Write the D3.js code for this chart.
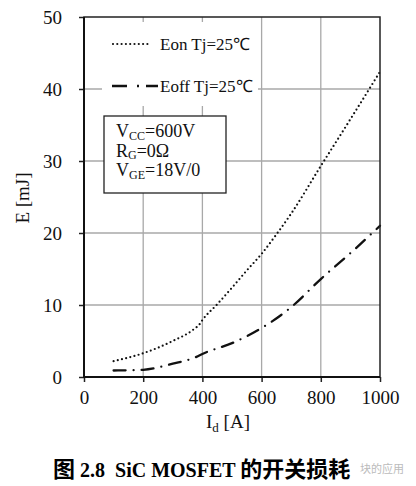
<!DOCTYPE html>
<html>
<head>
<meta charset="utf-8">
<script src="https://cdn.jsdelivr.net/npm/d3@7"></script>
<style>
  body { margin: 0; background: #fff; }
  svg { display: block; }
</style>
</head>
<body>
<div id="wrapper"></div>
<script>
// data
const currents = [100, 200, 300, 370, 390, 400, 450, 500, 550, 600, 650, 700, 800, 900, 1000]
const eonValues = [2.2, 3.3, 5.0, 6.6, 7.3, 7.9, 10.1, 12.4, 14.8, 17.1, 19.8, 22.7, 29.3, 35.8, 42.4]
const eoffCurrents = [100, 200, 300, 380, 400, 500, 600, 700, 800, 900, 1000]
const eoffValues = [0.9, 1.0, 1.85, 2.8, 3.2, 4.7, 6.8, 9.7, 13.6, 17.2, 21.0]
const xTicks = [0, 200, 400, 600, 800, 1000]
const yTicks = [0, 10, 20, 30, 40, 50]
const seriesNames = ["Eon Tj=25℃", "Eoff Tj=25℃"]

const serif = '"Liberation Serif"'
const cjk = '"Noto Sans CJK SC"'

//1_dimensions
let dimensions = {
  width: 416,
  height: 486,
  margin: { top: 17, left: 84, right: 36, bottom: 109 },
}
dimensions.boundedWidth = dimensions.width - dimensions.margin.left - dimensions.margin.right
dimensions.boundedHeight = dimensions.height - dimensions.margin.top - dimensions.margin.bottom

//2_canvas
const svg = d3.select("#wrapper")
  .append("svg")
  .attr("width", dimensions.width)
  .attr("height", dimensions.height)

const bounds = svg.append("g")
  .attr("transform", `translate(${dimensions.margin.left},${dimensions.margin.top})`)

//3_scales
const xScale = d3.scaleLinear()
  .domain([0, 1000])
  .range([0, dimensions.boundedWidth])
const yScale = d3.scaleLinear()
  .domain([0, 50])
  .range([dimensions.boundedHeight, 0])

//4_grid
const grid = bounds.append("g")
grid.selectAll(".vgrid")
  .data(xTicks.slice(1, -1))
  .join("line")
  .attr("x1", d => xScale(d)).attr("x2", d => xScale(d))
  .attr("y1", 0).attr("y2", dimensions.boundedHeight)
  .attr("stroke", "#a8a8a8").attr("stroke-width", 1.3)
grid.selectAll(".hgrid")
  .data(yTicks.slice(1, -1))
  .join("line")
  .attr("x1", 0).attr("x2", dimensions.boundedWidth)
  .attr("y1", d => yScale(d)).attr("y2", d => yScale(d))
  .attr("stroke", "#a8a8a8").attr("stroke-width", 1.3)

// legend backing hides grid
bounds.append("rect")
  .attr("x", 18).attr("y", 5)
  .attr("width", 156).attr("height", 84)
  .attr("fill", "#fff")

// conditions box
const box = bounds.append("g").attr("transform", "translate(20,99)")
box.append("rect")
  .attr("width", 122).attr("height", 77)
  .attr("fill", "#fff").attr("stroke", "#222").attr("stroke-width", 1.3)
const boxLines = [
  ["V", "CC", "=600V"],
  ["R", "G", "=0Ω"],
  ["V", "GE", "=18V/0"],
]
boxLines.forEach((l, i) => {
  const t = box.append("text")
    .attr("x", 12).attr("y", 21 + i * 19.5)
    .style("font-family", serif).style("font-size", "18px").attr("fill", "#111")
  t.append("tspan").text(l[0])
  t.append("tspan").text(l[1]).style("font-size", "12px").attr("dy", 2.5)
  t.append("tspan").text(l[2]).attr("dy", -2.5)
})

//5_lines
const lineGen = d3.line()
  .x(d => xScale(d[0]))
  .y(d => yScale(d[1]))
  .curve(d3.curveMonotoneX)

bounds.append("path")
  .datum(d3.zip(currents, eonValues))
  .attr("d", lineGen)
  .attr("fill", "none").attr("stroke", "#111")
  .attr("stroke-width", 2.2).attr("stroke-linecap", "round")
  .attr("stroke-dasharray", "0 4.3")

bounds.append("path")
  .datum(d3.zip(eoffCurrents, eoffValues))
  .attr("d", lineGen)
  .attr("fill", "none").attr("stroke", "#111")
  .attr("stroke-width", 2.3).attr("stroke-linecap", "round")
  .attr("stroke-dasharray", "12 8 0 8")

// legend
const legend = bounds.append("g")
seriesNames.forEach((name, i) => {
  const y = 27 + i * 42
  if (i == 0) {
    legend.append("line")
      .attr("x1", 29).attr("x2", 66)
      .attr("y1", y).attr("y2", y)
      .attr("stroke", "#111").attr("stroke-width", 2.2)
      .attr("stroke-linecap", "round")
      .attr("stroke-dasharray", "0 4.3")
  } else {
    legend.append("line")
      .attr("x1", 28).attr("x2", 74)
      .attr("y1", y).attr("y2", y)
      .attr("stroke", "#111").attr("stroke-width", 2.4)
      .attr("stroke-dasharray", "15 10 2 7 12 100")
  }
  legend.append("text")
    .attr("x", 76).attr("y", y + 6)
    .text(name)
    .style("font-family", serif).style("font-size", "17px").attr("fill", "#111")
})

//6_axes
const yAxis = d3.axisLeft(yScale).tickValues(yTicks).tickSize(5).tickPadding(17)
const xAxis = d3.axisBottom(xScale).tickValues(xTicks).tickSize(5).tickPadding(9).tickFormat(d3.format("d"))
const yAxisG = bounds.append("g").call(yAxis)
const xAxisG = bounds.append("g")
  .attr("transform", `translate(0,${dimensions.boundedHeight})`)
  .call(xAxis)
;[yAxisG, xAxisG].forEach(g => {
  g.attr("font-family", null).attr("font-size", null)
  g.select(".domain").remove()
  g.selectAll(".tick line").attr("stroke", "#222").attr("stroke-width", 1.5)
  g.selectAll(".tick text")
    .style("font-family", serif).style("font-size", "19px").attr("fill", "#111")
})
yAxisG.selectAll(".tick text").attr("dy", "0.34em")

// frame
bounds.append("rect")
  .attr("width", dimensions.boundedWidth).attr("height", dimensions.boundedHeight)
  .attr("fill", "none").attr("stroke", "#222").attr("stroke-width", 1.5)
bounds.append("path")
  .attr("d", `M0,0V${dimensions.boundedHeight}H${dimensions.boundedWidth}`)
  .attr("fill", "none").attr("stroke", "#111").attr("stroke-width", 2)

// axis labels
const xLabel = svg.append("text")
  .attr("x", dimensions.margin.left + dimensions.boundedWidth / 2 - 4)
  .attr("y", 428)
  .attr("text-anchor", "middle")
  .style("font-family", serif).style("font-size", "19px").attr("fill", "#111")
xLabel.append("tspan").text("I")
xLabel.append("tspan").text("d").style("font-size", "13px").attr("dy", 4)
xLabel.append("tspan").text(" [A]").attr("dy", -4)

svg.append("text")
  .attr("transform", "translate(29,198) rotate(-90)")
  .attr("text-anchor", "middle")
  .text("E [mJ]")
  .style("font-family", serif).style("font-size", "19px").attr("fill", "#111")

// caption
const caption = svg.append("text")
  .attr("x", 53).attr("y", 477)
  .style("font-weight", "bold")
  .style("white-space", "pre").attr("fill", "#000")
const captionParts = [["图", cjk, 22], [" 2.8  SiC MOSFET ", serif, 20], ["的开关损耗", cjk, 22]]
captionParts.forEach(p => {
  caption.append("tspan").text(p[0])
    .style("font-family", p[1]).style("font-size", p[2] + "px")
})

svg.append("text")
  .attr("x", 360).attr("y", 473)
  .text("块的应用")
  .style("font-family", cjk)
  .style("font-size", "11px").attr("fill", "#bbb")
</script>
</body>
</html>
